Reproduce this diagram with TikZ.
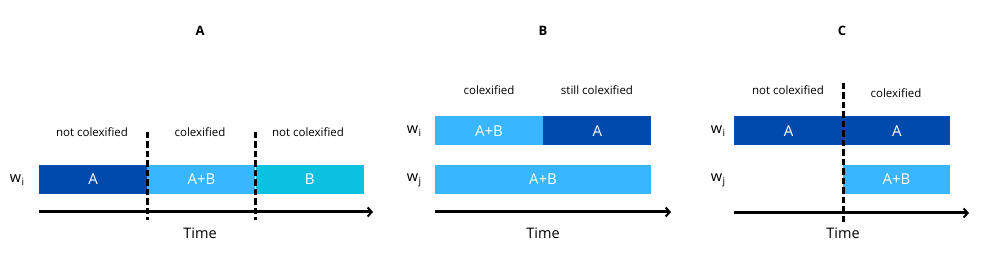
\documentclass[tikz,border=0pt]{standalone}
\usepackage{fontspec}
\setmainfont{Open Sans}
\usetikzlibrary{arrows.meta,positioning}
\definecolor{darkblue}{RGB}{0,74,173}
\definecolor{lightblue}{RGB}{56,182,255}
\definecolor{cyanblue}{RGB}{12,192,223}
\newcommand{\wsub}[1]{w\kern0.5pt\raisebox{-3pt}{\fontsize{10}{10}\selectfont #1}}

\begin{document}
\begin{tikzpicture}[x=1pt, y=1pt,
  every node/.style={font=\fontsize{11.5}{13}\selectfont},
  bar/.style={minimum height=29pt, inner sep=0pt, text=white, font=\fontsize{15}{17}\selectfont},
  title/.style={font=\bfseries\fontsize{13}{15}\selectfont},
  word/.style={font=\fontsize{14.5}{16}\selectfont},
  timeaxis/.style={line width=3pt, -{Straight Barb[length=4pt,width=9pt,line width=2pt]}},
  cut/.style={line width=3pt, dash pattern=on 6.5pt off 3pt}]
\useasboundingbox (0,0) rectangle (998,267);

% panel A
\node[title] (ta) at (200,236) {A};
\node[bar,fill=darkblue,minimum width=108pt] (a1) at (93,87.5) {A};
\node[bar,fill=lightblue,minimum width=108pt,right=0pt of a1] (a2) {A+B};
\node[bar,fill=cyanblue,minimum width=108pt,right=0pt of a2] (a3) {B};
\node[word] (awi) at (17,87) {\wsub{i}};
\node (la1) at (92,135) {not colexified};
\node (la2) at (200,135) {colexified};
\node (la3) at (308,135) {not colexified};
\coordinate (as) at (39,55); \coordinate (ae) at (373,55);
\draw[timeaxis] (as) -- (ae);
\coordinate (ad1) at (147,135); \coordinate (ad1e) at (147,47);
\coordinate (ad2) at (255,135); \coordinate (ad2e) at (255,47);
\draw[cut] (ad1) -- (ad1e); \draw[cut] (ad2) -- (ad2e);
\node[word] (atime) at (200,34) {Time};

% panel B
\node[title] (tb) at (543,236) {B};
\node[bar,fill=lightblue,minimum width=108pt] (b1) at (489,136) {A+B};
\node[bar,fill=darkblue,minimum width=108pt,right=0pt of b1] (b2) {A};
\node[bar,fill=lightblue,minimum width=216pt] (b3) at (543,87.5) {A+B};
\node[word] (bwi) at (414,136) {\wsub{i}};
\node[word] (bwj) at (414,87) {\wsub{j}};
\node (lb1) at (489,177) {colexified};
\node (lb2) at (597,177) {still colexified};
\coordinate (bs) at (435,55); \coordinate (be) at (671,55);
\draw[timeaxis] (bs) -- (be);
\node[word] (btime) at (543,34) {Time};

% panel C
\node[title] (tc) at (842,236) {C};
\node[bar,fill=darkblue,minimum width=109pt] (c1) at (788.5,136) {A};
\node[bar,fill=darkblue,minimum width=107pt,right=0pt of c1] (c2) {A};
\node[bar,fill=lightblue,minimum width=107pt] (c3) at (896.5,87.5) {A+B};
\node[word] (cwi) at (718,136) {\wsub{i}};
\node[word] (cwj) at (718,87) {\wsub{j}};
\node (lc1) at (788,177) {not colexified};
\node (lc2) at (896,174) {colexified};
\coordinate (cs) at (734,54); \coordinate (ce) at (969,54);
\draw[timeaxis] (cs) -- (ce);
\coordinate (cd) at (843,184); \coordinate (cde) at (843,45);
\draw[cut] (cd) -- (cde);
\node[word] (ctime) at (843,34) {Time};
\end{tikzpicture}
\end{document}
